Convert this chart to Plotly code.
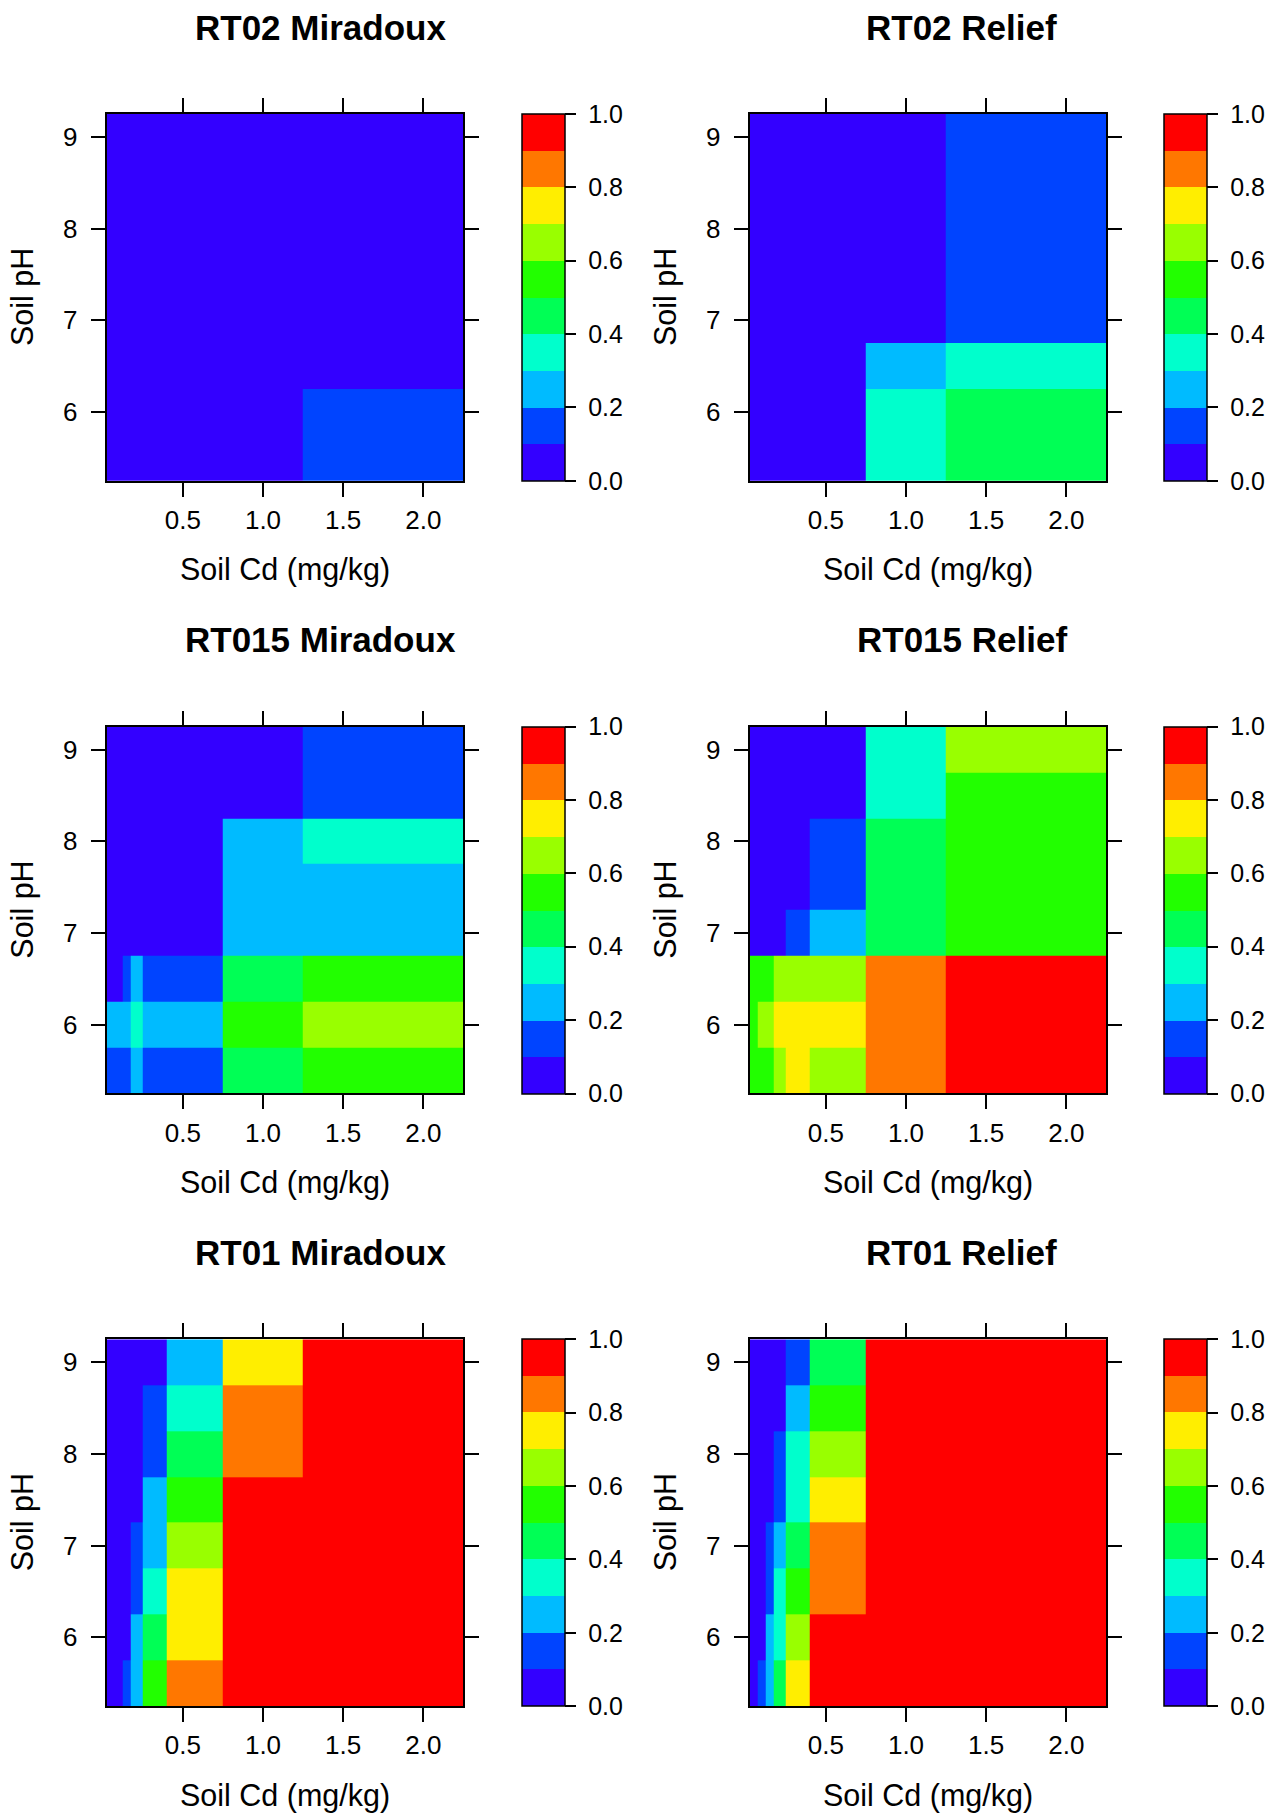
import plotly.graph_objects as go

# ---------------- data ----------------
cd_levels = [0.05, 0.1, 0.15, 0.2, 0.3, 0.5, 1.0, 1.5, 2.0]
ph_levels = [9.0, 8.5, 8.0, 7.5, 7.0, 6.5, 6.0, 5.5]  # rows listed top to bottom

x_tickvals = [0.5, 1.0, 1.5, 2.0]
x_ticktext = ["0.5", "1.0", "1.5", "2.0"]
y_tickvals = [6, 7, 8, 9]
y_ticktext = ["6", "7", "8", "9"]
cb_tickvals = [0.0, 0.2, 0.4, 0.6, 0.8, 1.0]
cb_ticktext = ["0.0", "0.2", "0.4", "0.6", "0.8", "1.0"]

panel_titles = ["RT02 Miradoux", "RT02 Relief",
                "RT015 Miradoux", "RT015 Relief",
                "RT01 Miradoux", "RT01 Relief"]

rt02_miradoux = [
    [0.05, 0.05, 0.05, 0.05, 0.05, 0.05, 0.05, 0.05, 0.05],
    [0.05, 0.05, 0.05, 0.05, 0.05, 0.05, 0.05, 0.05, 0.05],
    [0.05, 0.05, 0.05, 0.05, 0.05, 0.05, 0.05, 0.05, 0.05],
    [0.05, 0.05, 0.05, 0.05, 0.05, 0.05, 0.05, 0.05, 0.05],
    [0.05, 0.05, 0.05, 0.05, 0.05, 0.05, 0.05, 0.05, 0.05],
    [0.05, 0.05, 0.05, 0.05, 0.05, 0.05, 0.05, 0.05, 0.05],
    [0.05, 0.05, 0.05, 0.05, 0.05, 0.05, 0.05, 0.15, 0.15],
    [0.05, 0.05, 0.05, 0.05, 0.05, 0.05, 0.05, 0.15, 0.15],
]
rt02_relief = [
    [0.05, 0.05, 0.05, 0.05, 0.05, 0.05, 0.05, 0.15, 0.15],
    [0.05, 0.05, 0.05, 0.05, 0.05, 0.05, 0.05, 0.15, 0.15],
    [0.05, 0.05, 0.05, 0.05, 0.05, 0.05, 0.05, 0.15, 0.15],
    [0.05, 0.05, 0.05, 0.05, 0.05, 0.05, 0.05, 0.15, 0.15],
    [0.05, 0.05, 0.05, 0.05, 0.05, 0.05, 0.05, 0.15, 0.15],
    [0.05, 0.05, 0.05, 0.05, 0.05, 0.05, 0.25, 0.35, 0.35],
    [0.05, 0.05, 0.05, 0.05, 0.05, 0.05, 0.35, 0.45, 0.45],
    [0.05, 0.05, 0.05, 0.05, 0.05, 0.05, 0.35, 0.45, 0.45],
]
rt015_miradoux = [
    [0.05, 0.05, 0.05, 0.05, 0.05, 0.05, 0.05, 0.15, 0.15],
    [0.05, 0.05, 0.05, 0.05, 0.05, 0.05, 0.05, 0.15, 0.15],
    [0.05, 0.05, 0.05, 0.05, 0.05, 0.05, 0.25, 0.35, 0.35],
    [0.05, 0.05, 0.05, 0.05, 0.05, 0.05, 0.25, 0.25, 0.25],
    [0.05, 0.05, 0.05, 0.05, 0.05, 0.05, 0.25, 0.25, 0.25],
    [0.05, 0.05, 0.15, 0.25, 0.15, 0.15, 0.45, 0.55, 0.55],
    [0.25, 0.25, 0.25, 0.35, 0.25, 0.25, 0.55, 0.65, 0.65],
    [0.15, 0.15, 0.15, 0.25, 0.15, 0.15, 0.45, 0.55, 0.55],
]
rt015_relief = [
    [0.05, 0.05, 0.05, 0.05, 0.05, 0.05, 0.35, 0.65, 0.65],
    [0.05, 0.05, 0.05, 0.05, 0.05, 0.05, 0.35, 0.55, 0.55],
    [0.05, 0.05, 0.05, 0.05, 0.05, 0.15, 0.45, 0.55, 0.55],
    [0.05, 0.05, 0.05, 0.05, 0.05, 0.15, 0.45, 0.55, 0.55],
    [0.05, 0.05, 0.05, 0.05, 0.15, 0.25, 0.45, 0.55, 0.55],
    [0.55, 0.55, 0.55, 0.65, 0.65, 0.65, 0.85, 0.95, 0.95],
    [0.55, 0.65, 0.65, 0.75, 0.75, 0.75, 0.85, 0.95, 0.95],
    [0.55, 0.55, 0.55, 0.65, 0.75, 0.65, 0.85, 0.95, 0.95],
]
rt01_miradoux = [
    [0.05, 0.05, 0.05, 0.05, 0.05, 0.25, 0.75, 0.95, 0.95],
    [0.05, 0.05, 0.05, 0.05, 0.15, 0.35, 0.85, 0.95, 0.95],
    [0.05, 0.05, 0.05, 0.05, 0.15, 0.45, 0.85, 0.95, 0.95],
    [0.05, 0.05, 0.05, 0.05, 0.25, 0.55, 0.95, 0.95, 0.95],
    [0.05, 0.05, 0.05, 0.15, 0.25, 0.65, 0.95, 0.95, 0.95],
    [0.05, 0.05, 0.05, 0.15, 0.35, 0.75, 0.95, 0.95, 0.95],
    [0.05, 0.05, 0.05, 0.25, 0.45, 0.75, 0.95, 0.95, 0.95],
    [0.05, 0.05, 0.15, 0.25, 0.55, 0.85, 0.95, 0.95, 0.95],
]
rt01_relief = [
    [0.05, 0.05, 0.05, 0.05, 0.15, 0.45, 0.95, 0.95, 0.95],
    [0.05, 0.05, 0.05, 0.05, 0.25, 0.55, 0.95, 0.95, 0.95],
    [0.05, 0.05, 0.05, 0.15, 0.35, 0.65, 0.95, 0.95, 0.95],
    [0.05, 0.05, 0.05, 0.15, 0.35, 0.75, 0.95, 0.95, 0.95],
    [0.05, 0.05, 0.15, 0.25, 0.45, 0.85, 0.95, 0.95, 0.95],
    [0.05, 0.05, 0.15, 0.35, 0.55, 0.85, 0.95, 0.95, 0.95],
    [0.05, 0.05, 0.25, 0.35, 0.65, 0.95, 0.95, 0.95, 0.95],
    [0.05, 0.15, 0.25, 0.45, 0.75, 0.95, 0.95, 0.95, 0.95],
]
panels = [rt02_miradoux, rt02_relief, rt015_miradoux, rt015_relief,
          rt01_miradoux, rt01_relief]

# R rainbow(10, end = 0.7), reversed (low = violet, high = red)
bin_colors = ["#3300FF", "#0044FF", "#00BBFF", "#00FFCC", "#00FF55",
              "#22FF00", "#99FF00", "#FFEE00", "#FF7700", "#FF0000"]

# ---------------- styling ----------------
W, H = 1282, 1816
FONT = "Liberation Sans, Arial, Helvetica, sans-serif"
NBSP = "\u00a0"

colorscale = []
n = len(bin_colors)
for i, c in enumerate(bin_colors):
    colorscale.append([i / n, c])
    colorscale.append([(i + 1) / n, c])

col_left = [106.7, 749.7]
col_right = [463.4, 1106.4]
row_top = [114.0, 726.7, 1339.3]
row_bot = [480.7, 1093.3, 1706.0]
cb_left = [522.3, 1164.0]
cb_thick = 43.4


def px(x):
    return x / W


def py(y):
    return 1 - y / H


fig = go.Figure()
layout_axes = {}
annotations = []

for k, (z, title) in enumerate(zip(panels, panel_titles)):
    r, c = divmod(k, 2)
    idx = k + 1
    xa = "x" if idx == 1 else f"x{idx}"
    ya = "y" if idx == 1 else f"y{idx}"
    fig.add_trace(go.Heatmap(
        x=cd_levels, y=ph_levels, z=z,
        zmin=0, zmax=1, colorscale=colorscale,
        xaxis=xa, yaxis=ya, hoverinfo="skip",
        colorbar=dict(
            x=px(cb_left[c]), xanchor="left", xpad=0,
            y=py((row_top[r] + row_bot[r]) / 2), yanchor="middle", ypad=0,
            len=(row_bot[r] - row_top[r]) / H, lenmode="fraction",
            thickness=cb_thick, thicknessmode="pixels",
            outlinewidth=1.5, outlinecolor="black",
            tickmode="array", tickvals=cb_tickvals,
            ticktext=[NBSP + t for t in cb_ticktext],
            ticks="outside", ticklen=11, tickwidth=1.5, tickcolor="black",
            tickfont=dict(family=FONT, size=25, color="black"),
        ),
    ))
    axis_common = dict(
        showgrid=False, zeroline=False, showline=True, linecolor="black",
        linewidth=2, mirror="ticks", ticks="outside", ticklen=14,
        tickwidth=2, tickcolor="black",
        tickfont=dict(family=FONT, size=26, color="black"),
    )
    layout_axes["xaxis" if idx == 1 else f"xaxis{idx}"] = dict(
        axis_common, domain=[px(col_left[c]), px(col_right[c])],
        range=[0.025, 2.25], tickmode="array", tickvals=x_tickvals,
        ticktext=x_ticktext, anchor=ya, ticklabelstandoff=1,
    )
    layout_axes["yaxis" if idx == 1 else f"yaxis{idx}"] = dict(
        axis_common, domain=[py(row_bot[r]), py(row_top[r])],
        range=[5.25, 9.25], tickmode="array", tickvals=y_tickvals,
        ticktext=y_ticktext, anchor=xa, ticklabelstandoff=8,
    )
    # panel title
    annotations.append(dict(
        text=f"<b>{title}</b>", x=px(320.5 + c * 641), y=py(row_top[r] - 87),
        xref="paper", yref="paper", xanchor="center", yanchor="middle",
        showarrow=False, font=dict(family=FONT, size=35, color="black"),
    ))
    # x axis label
    annotations.append(dict(
        text="Soil Cd (mg/kg)", x=px((col_left[c] + col_right[c]) / 2),
        y=py(row_bot[r] + 89), xref="paper", yref="paper",
        xanchor="center", yanchor="middle", showarrow=False,
        font=dict(family=FONT, size=30.5, color="black"),
    ))
    # y axis label
    annotations.append(dict(
        text="Soil pH", x=px(col_left[c] - 84),
        y=py((row_top[r] + row_bot[r]) / 2), xref="paper", yref="paper",
        xanchor="center", yanchor="middle", textangle=-90, showarrow=False,
        font=dict(family=FONT, size=30.5, color="black"),
    ))

fig.update_layout(
    width=W, height=H, margin=dict(l=0, r=0, t=0, b=0, pad=0),
    paper_bgcolor="white", plot_bgcolor="white",
    showlegend=False, annotations=annotations,
    font=dict(family=FONT, color="black"),
    **layout_axes,
)

fig.write_html("out.html", config={"displayModeBar": False},
               post_script="document.body.style.margin='0';")
